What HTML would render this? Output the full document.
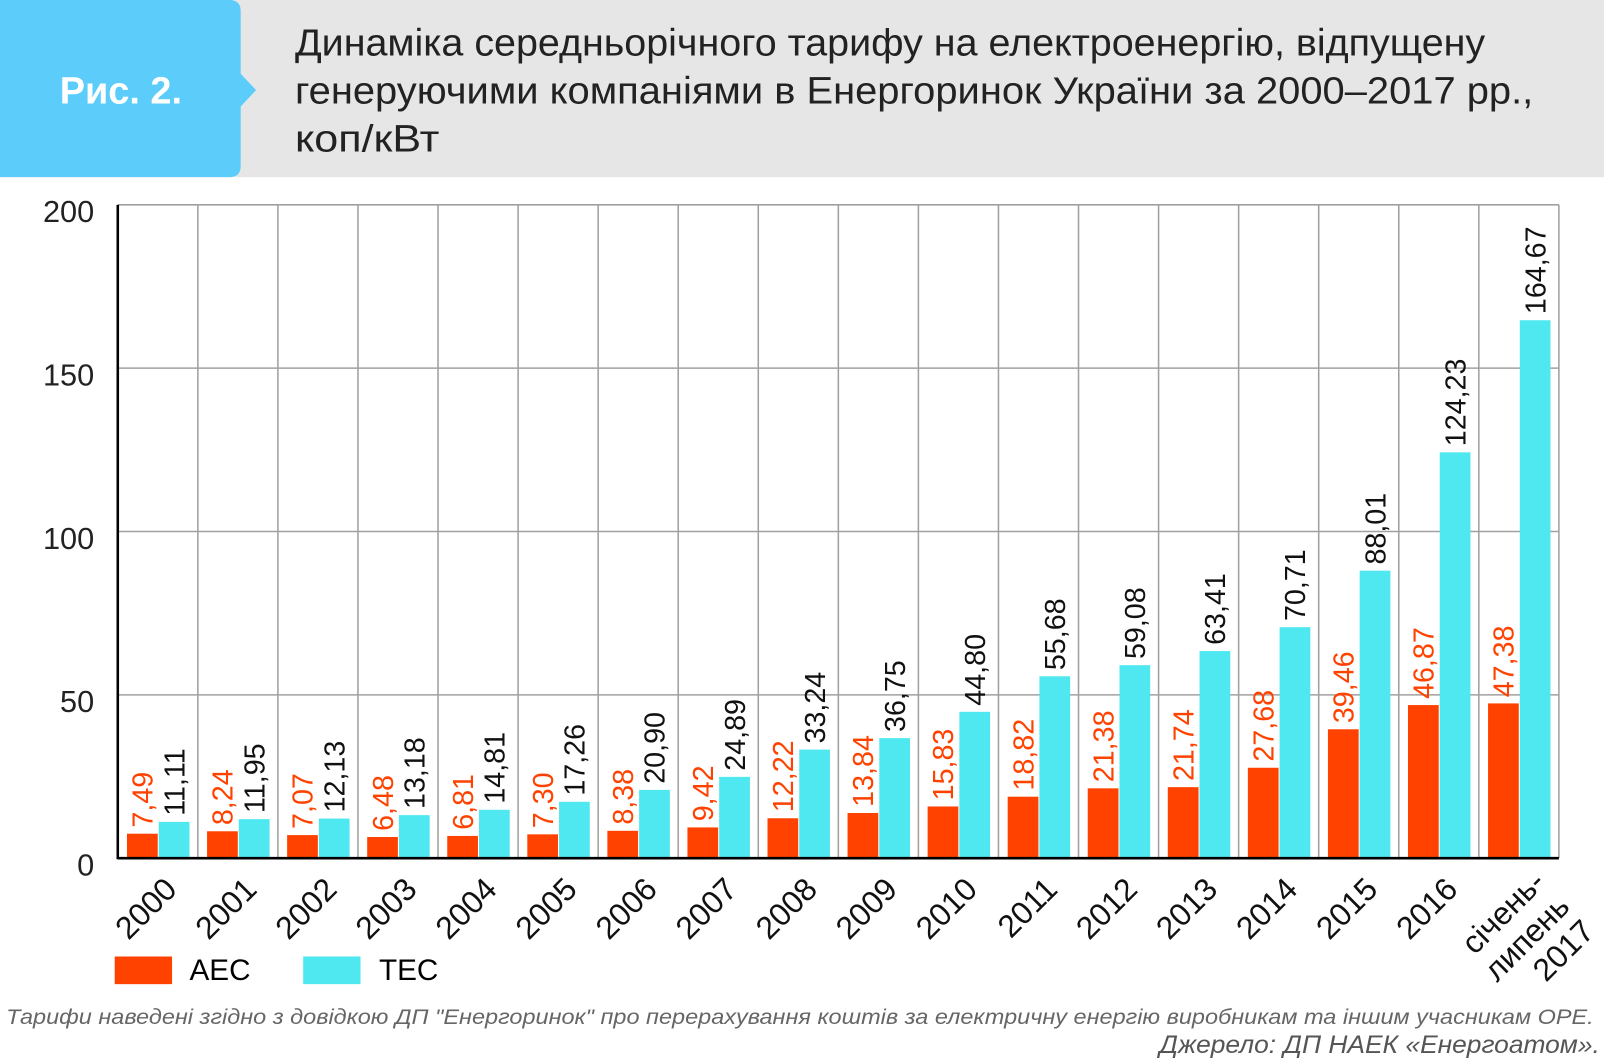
<!DOCTYPE html>
<html><head><meta charset="utf-8"><style>
html,body{margin:0;padding:0;background:#fff;}
svg{display:block;font-family:"Liberation Sans","DejaVu Sans",sans-serif;}
</style></head><body>
<svg id="chart" width="1606" height="1063" viewBox="0 0 1568 1038" preserveAspectRatio="none" xmlns="http://www.w3.org/2000/svg">
<rect x="0" y="0" width="1566" height="173" fill="#e6e6e6"/>
<path d="M0 0 H224 Q235 0 235 11 V72 L250 88 L235 104 V162 Q235 173 224 173 H0 Z" fill="#5ccdfa"/>
<text x="118" y="101" text-anchor="middle" font-size="37" font-weight="bold" fill="#fff">Рис. 2.</text>
<g font-size="37" fill="#222">
<text x="288" y="54" textLength="1162" lengthAdjust="spacingAndGlyphs">Динаміка середньорічного тарифу на електроенергію, відпущену</text>
<text x="288" y="101" textLength="1209" lengthAdjust="spacingAndGlyphs">генеруючими компаніями в Енергоринок України за 2000–2017 рр.,</text>
<text x="288" y="148" textLength="141" lengthAdjust="spacingAndGlyphs">коп/кВт</text>
</g>
<g id="grid"></g>
<g id="bars"></g>
<g id="labels"></g>
<g id="axes"></g>
<g>
<rect x="112" y="934" width="56" height="27" fill="#ff4200"/>
<text x="185" y="957" font-size="29">АЕС</text>
<rect x="296" y="934" width="56" height="27" fill="#4fe8f0"/>
<text x="370" y="957" font-size="29">ТЕС</text>
</g>
<text x="6" y="1000" font-size="21" font-style="italic" fill="#666" textLength="1550" lengthAdjust="spacingAndGlyphs">Тарифи  наведені  згідно з довідкою ДП "Енергоринок" про перерахування коштів за електричну енергію виробникам та  іншим  учасникам  ОРЕ.</text>
<text x="1562" y="1028" text-anchor="end" font-size="24" font-style="italic" fill="#555" textLength="430" lengthAdjust="spacingAndGlyphs">Джерело: ДП НАЕК «Енергоатом».</text>
</svg>
<script>
const categories = ["2000","2001","2002","2003","2004","2005","2006","2007","2008","2009","2010","2011","2012","2013","2014","2015","2016","січень-|липень|2017"];
const aesValues = [7.49,8.24,7.07,6.48,6.81,7.30,8.38,9.42,12.22,13.84,15.83,18.82,21.38,21.74,27.68,39.46,46.87,47.38];
const tesValues = [11.11,11.95,12.13,13.18,14.81,17.26,20.90,24.89,33.24,36.75,44.80,55.68,59.08,63.41,70.71,88.01,124.23,164.67];
const yTicks = [0,50,100,150,200];

const NS="http://www.w3.org/2000/svg";
const L=115,R=1522,T=200,B=838,YMAX=200;
const cw=(R-L)/categories.length;
const y=v=>B-(v/YMAX)*(B-T);
const x=i=>L+i*cw;
function mk(tag,attrs,parent,txt){const e=document.createElementNS(NS,tag);for(const k in attrs)e.setAttribute(k,attrs[k]);if(txt!==undefined)e.textContent=txt;parent.appendChild(e);return e;}
const grid=document.getElementById('grid'),bars=document.getElementById('bars'),labels=document.getElementById('labels'),axes=document.getElementById('axes');
yTicks.forEach(t=>{
  if(t>0){const g=mk('line',{x1:L,x2:R,y1:y(t),y2:y(t),stroke:'#a0a0a0','stroke-width':1.5},grid);
  
  }
  const tl=mk('text',{x:92,y:y(t)+17,'text-anchor':'end','font-size':30,fill:'#222'},axes,String(t));
  
  
});
for(let i=1;i<=categories.length;i++){
  const g=mk('line',{x1:x(i),x2:x(i),y1:T,y2:B,stroke:'#a0a0a0','stroke-width':1.5},grid);
  
  
}
const fmt=v=>v.toFixed(2).replace('.',',');
categories.forEach((c,i)=>{
  const ax=x(i)+9, tx=x(i)+40, bw=30;
  const b1=mk('rect',{x:ax,y:y(aesValues[i]),width:bw,height:B-y(aesValues[i]),fill:'#ff4200'},bars);
  
  
  const b2=mk('rect',{x:tx,y:y(tesValues[i]),width:bw,height:B-y(tesValues[i]),fill:'#4fe8f0'},bars);
  
  
  const l1x=ax+bw/2+10,l1y=y(aesValues[i])-6;
  const t1=mk('text',{x:l1x,y:l1y,transform:`rotate(-90 ${l1x} ${l1y})`,'font-size':28,fill:'#ff4200'},labels,fmt(aesValues[i]));
  
  
  const l2x=tx+bw/2+10,l2y=y(tesValues[i])-6;
  const t2=mk('text',{x:l2x,y:l2y,transform:`rotate(-90 ${l2x} ${l2y})`,'font-size':28,fill:'#111'},labels,fmt(tesValues[i]));
  
  
  const parts=c.split('|');
  const cx=x(i)+cw/2+6, cy=856;
  const g=mk('g',{transform:`rotate(-45 ${cx} ${cy})`},axes);
  
  
  parts.forEach((p,k)=>{
    mk('text',{x:cx+(parts.length>1?10:0),y:cy+20+k*34,'text-anchor':'end','font-size':31,fill:'#111'},g,p);
  });
});
const ay=mk('line',{x1:L,x2:L,y1:T,y2:B+1,stroke:'#000','stroke-width':2.5},axes);


const ax2=mk('line',{x1:L,x2:R,y1:B,y2:B,stroke:'#000','stroke-width':2.5},axes);


</script>
</body></html>
